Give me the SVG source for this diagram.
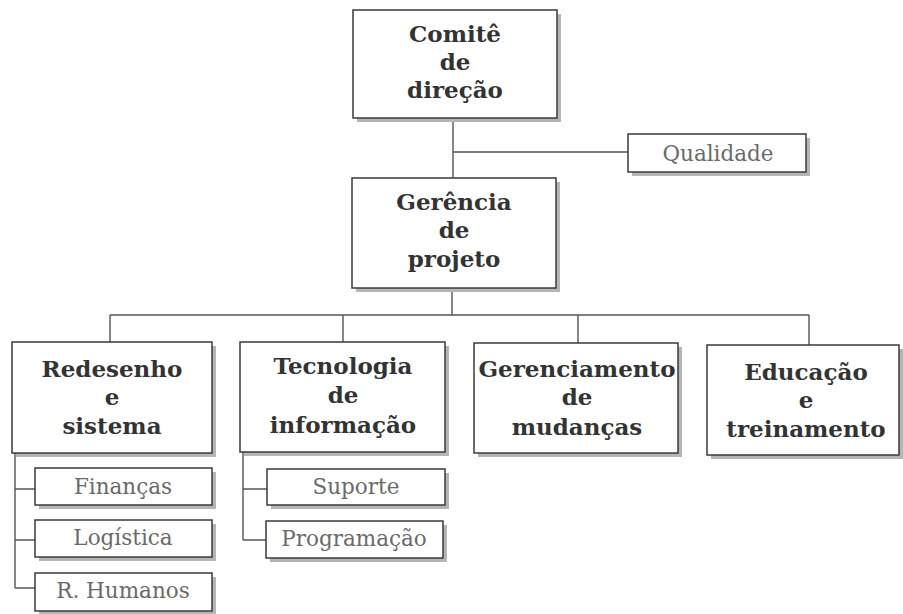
<svg xmlns="http://www.w3.org/2000/svg" width="903" height="614" viewBox="0 0 903 614">
  <style>
    .box { fill: #fff; stroke: #3a3a3a; stroke-width: 1.5; }
    .shadow { fill: #b5b5b5; }
    .link { fill: none; stroke: #555; stroke-width: 1.4; }
    .head { font-family: "DejaVu Serif", "Liberation Serif", serif; font-weight: bold; font-size: 23px; fill: #333; text-anchor: middle; }
    .sub { font-family: "DejaVu Serif", "Liberation Serif", serif; font-size: 21.5px; fill: #6a6a6a; text-anchor: middle; }
  </style>
  <rect width="903" height="614" fill="#fff"/>

  <!-- connectors -->
  <g id="connectors">
    <path class="link" d="M453 118 V178 M453 152 H628"/>
    <path class="link" d="M452 288 V315 M110 315 H809 M110 315 V342 M343 315 V342 M578 315 V343 M809 315 V345"/>
    <path class="link" d="M15 453 V588 M15 489 H35 M15 540 H35 M15 588 H35"/>
    <path class="link" d="M243 452 V540 M243 489 H267 M243 540 H266"/>
  </g>

  <g id="comite">
    <rect class="shadow" x="357" y="14" width="204" height="108"/>
    <rect class="box" x="353" y="10" width="204" height="108"/>
    <text class="head" x="455" y="42">Comitê</text>
    <text class="head" x="455" y="70">de</text>
    <text class="head" x="455" y="98">direção</text>
  </g>

  <g id="qualidade">
    <rect class="shadow" x="632" y="138" width="178" height="38"/>
    <rect class="box" x="628" y="134" width="178" height="38"/>
    <text class="sub" x="718" y="161">Qualidade</text>
  </g>

  <g id="gerencia-projeto">
    <rect class="shadow" x="356" y="182" width="204" height="110"/>
    <rect class="box" x="352" y="178" width="204" height="110"/>
    <text class="head" x="454" y="210">Gerência</text>
    <text class="head" x="454" y="238">de</text>
    <text class="head" x="454" y="267">projeto</text>
  </g>

  <g id="redesenho">
    <rect class="shadow" x="16" y="346" width="200" height="111"/>
    <rect class="box" x="12" y="342" width="200" height="111"/>
    <text class="head" x="112" y="377">Redesenho</text>
    <text class="head" x="112" y="405">e</text>
    <text class="head" x="112" y="434">sistema</text>
  </g>

  <g id="tecnologia">
    <rect class="shadow" x="244" y="346" width="205" height="110"/>
    <rect class="box" x="240" y="342" width="205" height="110"/>
    <text class="head" x="343" y="374">Tecnologia</text>
    <text class="head" x="343" y="403">de</text>
    <text class="head" x="343" y="433">informação</text>
  </g>

  <g id="gerenciamento">
    <rect class="shadow" x="478" y="347" width="204" height="110"/>
    <rect class="box" x="474" y="343" width="204" height="110"/>
    <text class="head" x="577" y="377">Gerenciamento</text>
    <text class="head" x="577" y="405">de</text>
    <text class="head" x="577" y="435">mudanças</text>
  </g>

  <g id="educacao">
    <rect class="shadow" x="711" y="349" width="192" height="110"/>
    <rect class="box" x="707" y="345" width="192" height="110"/>
    <text class="head" x="806" y="380">Educação</text>
    <text class="head" x="806" y="408">e</text>
    <text class="head" x="806" y="437">treinamento</text>
  </g>

  <g id="financas">
    <rect class="shadow" x="39" y="472" width="177" height="37"/>
    <rect class="box" x="35" y="468" width="177" height="37"/>
    <text class="sub" x="123" y="494">Finanças</text>
  </g>

  <g id="logistica">
    <rect class="shadow" x="39" y="524" width="177" height="37"/>
    <rect class="box" x="35" y="520" width="177" height="37"/>
    <text class="sub" x="123" y="545">Logística</text>
  </g>

  <g id="rhumanos">
    <rect class="shadow" x="39" y="577" width="177" height="37"/>
    <rect class="box" x="35" y="573" width="177" height="38"/>
    <text class="sub" x="123" y="598">R. Humanos</text>
  </g>

  <g id="suporte">
    <rect class="shadow" x="271" y="473" width="178" height="36"/>
    <rect class="box" x="267" y="469" width="178" height="36"/>
    <text class="sub" x="356" y="494">Suporte</text>
  </g>

  <g id="programacao">
    <rect class="shadow" x="270" y="525" width="177" height="37"/>
    <rect class="box" x="266" y="521" width="177" height="37"/>
    <text class="sub" x="354" y="546">Programação</text>
  </g>
</svg>
